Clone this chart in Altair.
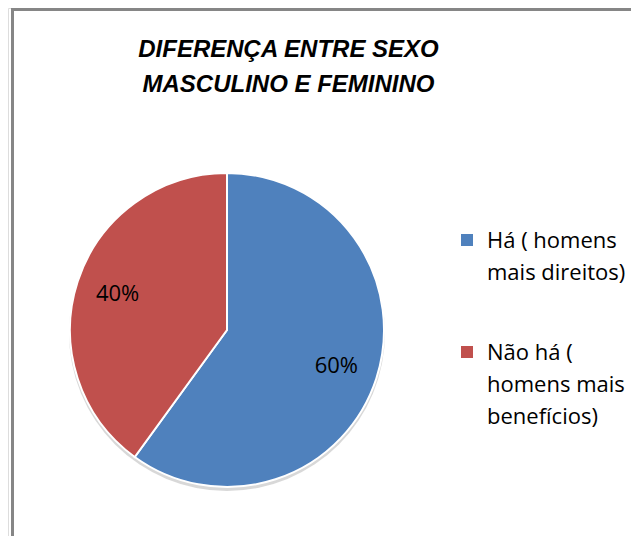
import altair as alt
import pandas as pd

# ---- data ----
categories = ["Há ( homens\nmais direitos)", "Não há (\nhomens mais\nbenefícios)"]
values = [60, 40]
value_labels = ["60%", "40%"]
colors = ["#4F81BD", "#C0504D"]
title_lines = ["DIFERENÇA ENTRE SEXO", "MASCULINO E FEMININO"]

df = pd.DataFrame({"cat": categories, "val": values, "lab": value_labels, "ord": [0, 1]})

W, H = 623, 528
CX, CY = 219, 322
R = 157

base = alt.Chart(df).encode(
    theta=alt.Theta("val:Q", stack=True),
    order=alt.Order("ord:Q"),
)

# soft shadow under the pie
shadow = alt.Chart(pd.DataFrame({"k": [0]})).mark_arc(
    outerRadius=R + 1, theta=0, theta2=6.2832, fill="#c8c8c8", opacity=0.7
).encode(x=alt.value(CX), y=alt.value(CY + 3))

pie = base.mark_arc(outerRadius=R, stroke="white", strokeWidth=2).encode(
    x=alt.value(CX),
    y=alt.value(CY),
    color=alt.Color(
        "cat:N",
        scale=alt.Scale(domain=categories, range=colors),
        legend=alt.Legend(
            title=None,
            orient="none",
            legendX=448,
            legendY=212,
            symbolType="M-1,0.5H1V2.5H-1Z",
            symbolSize=144,
            symbolStrokeWidth=0,
            labelFont="Open Sans",
            labelFontSize=22,
            labelColor="black",
            labelExpr="split(datum.label, '\\n')",
            labelOffset=9,
            labelLimit=400,
            labelBaseline="top",
            rowPadding=48,
            padding=0,
        ),
    ),
)

text = base.mark_text(radius=115, font="Open Sans", fontSize=22, color="black").encode(
    x=alt.value(CX),
    y=alt.value(CY),
    text="lab:N",
)

frame_df = pd.DataFrame({"k": [0]})
frame_left = alt.Chart(frame_df).mark_rule(color="#868686", strokeWidth=3).encode(
    x=alt.value(4.5), y=alt.value(0), y2=alt.value(H)
)
frame_top = alt.Chart(frame_df).mark_rule(color="#868686", strokeWidth=3).encode(
    x=alt.value(3), x2=alt.value(W), y=alt.value(1.5)
)

chart = alt.layer(frame_left, frame_top, shadow, pie, text).properties(
    width=W,
    height=H,
    autosize=alt.AutoSizeParams(type="none"),
    padding=0,
    title=alt.TitleParams(
        text=title_lines,
        font="Liberation Sans",
        fontSize=24,
        fontWeight="bold",
        fontStyle="italic",
        color="black",
        anchor="middle",
        frame="group",
        dx=-31,
        offset=-90,
        lineHeight=35,
    ),
).configure_view(stroke=None).configure(
    style={"guide-label": {"lineHeight": 32}}
)

chart.save("out.html", embed_options={"renderer": "svg", "actions": False})
